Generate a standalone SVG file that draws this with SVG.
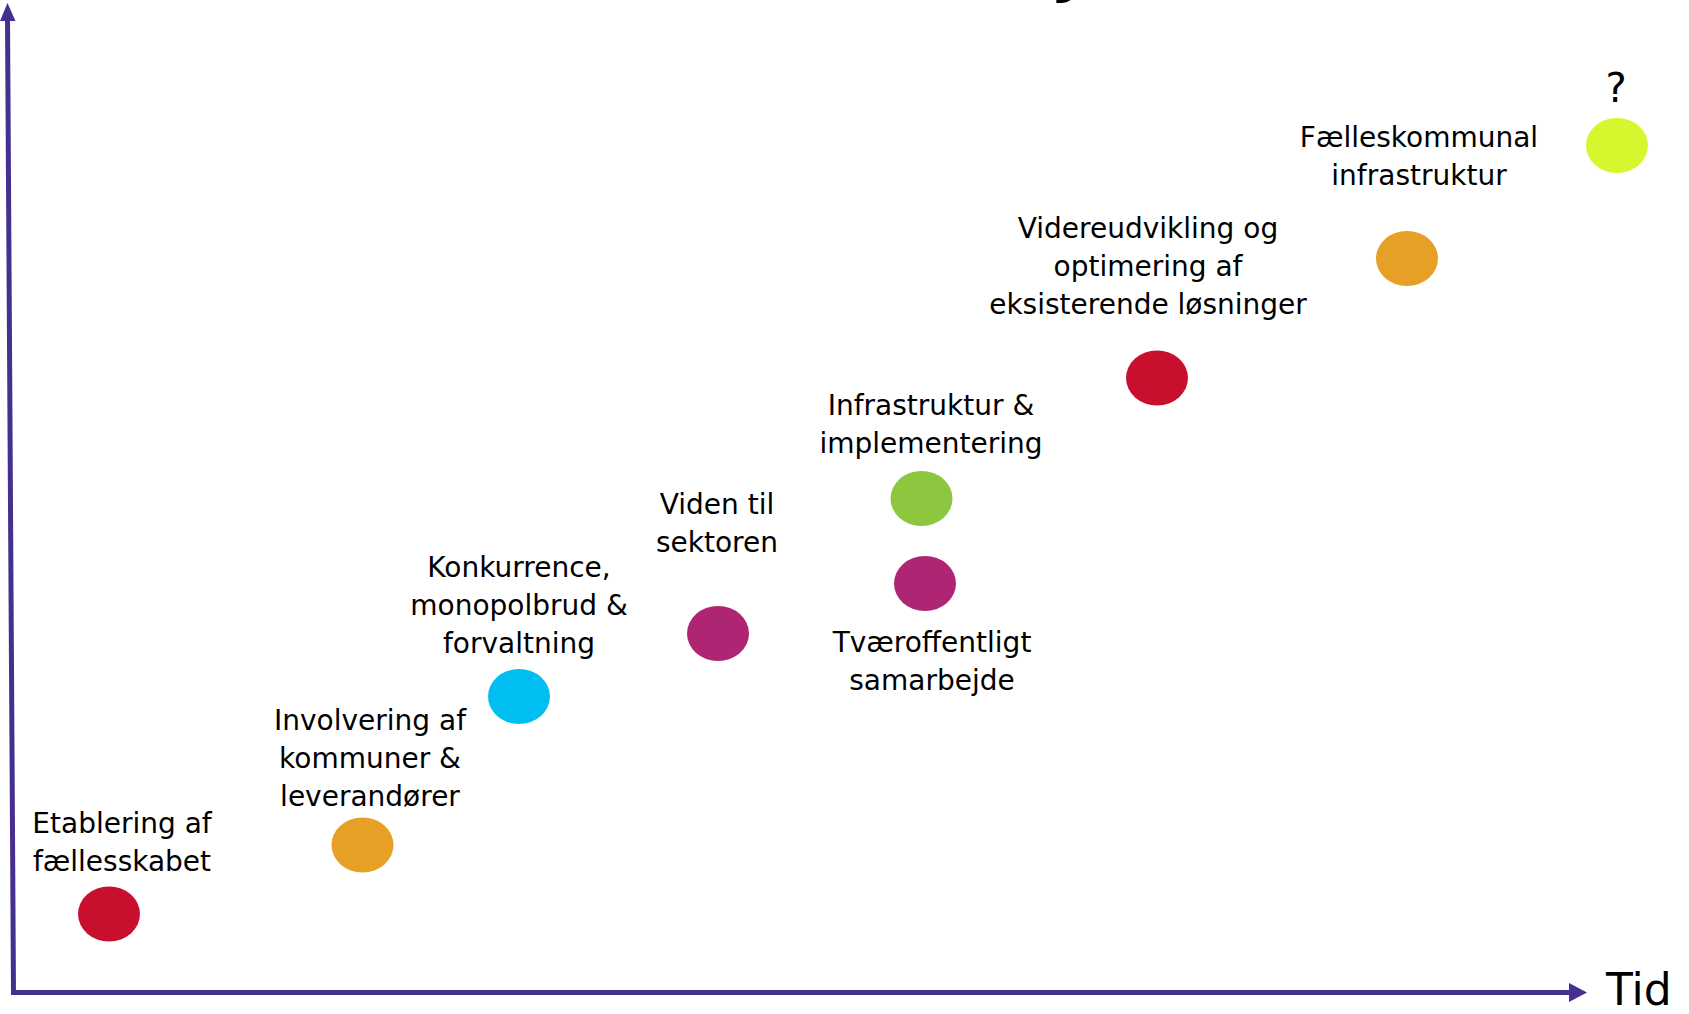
<svg xmlns="http://www.w3.org/2000/svg" width="1689" height="1014" viewBox="0 0 1689 1014">
<style>
  .lbl { font-family: "DejaVu Sans", "Liberation Sans", sans-serif; font-size: 28px; fill: #000; text-anchor: middle; }
  .axis { stroke: #46308F; stroke-width: 5; fill: none; }
  .head { fill: #46308F; }
</style>
<rect width="1689" height="1014" fill="#ffffff"/>
<text x="1050" y="-14" style="font-family: 'DejaVu Sans', sans-serif; font-size: 80px; fill:#000;">y</text>
<g id="connectors">
  <line class="axis" x1="7.5" y1="18" x2="13.5" y2="993"/>
  <polygon class="head" points="0,21 7.5,3 15.5,21"/>
  <line class="axis" x1="11" y1="992.5" x2="1572" y2="992.5"/>
  <polygon class="head" points="1569,983 1587,992.5 1569,1002"/>
</g>
<g id="axis-label"><text x="1606" y="1005" style="font-family: 'DejaVu Sans', sans-serif; font-size: 44px; fill:#000;">Tid</text></g>
<g id="n1">
  <ellipse cx="109" cy="914" rx="31" ry="27.5" fill="#C8102E"/>
  <text class="lbl" x="122" y="833">Etablering af</text>
  <text class="lbl" x="122" y="871">fællesskabet</text>
</g>
<g id="n2">
  <ellipse cx="362.5" cy="845" rx="31" ry="27.5" fill="#E6A025"/>
  <text class="lbl" x="370" y="730">Involvering af</text>
  <text class="lbl" x="370" y="768">kommuner &amp;</text>
  <text class="lbl" x="370" y="806">leverandører</text>
</g>
<g id="n3">
  <ellipse cx="519" cy="696.5" rx="31" ry="27.5" fill="#00BFF0"/>
  <text class="lbl" x="519" y="577">Konkurrence,</text>
  <text class="lbl" x="519" y="615">monopolbrud &amp;</text>
  <text class="lbl" x="519" y="653">forvaltning</text>
</g>
<g id="n4">
  <ellipse cx="718" cy="633.5" rx="31" ry="27.5" fill="#AE2673"/>
  <text class="lbl" x="717" y="514">Viden til</text>
  <text class="lbl" x="717" y="552">sektoren</text>
</g>
<g id="n5">
  <ellipse cx="921.5" cy="498.5" rx="31" ry="27.5" fill="#8DC63F"/>
  <text class="lbl" x="931" y="415">Infrastruktur &amp;</text>
  <text class="lbl" x="931" y="453">implementering</text>
</g>
<g id="n6">
  <ellipse cx="925" cy="583.5" rx="31" ry="27.5" fill="#AE2673"/>
  <text class="lbl" x="932" y="652">Tværoffentligt</text>
  <text class="lbl" x="932" y="690">samarbejde</text>
</g>
<g id="n7">
  <ellipse cx="1157" cy="378" rx="31" ry="27.5" fill="#C8102E"/>
  <text class="lbl" x="1148" y="238">Videreudvikling og</text>
  <text class="lbl" x="1148" y="276">optimering af</text>
  <text class="lbl" x="1148" y="314">eksisterende løsninger</text>
</g>
<g id="n8">
  <ellipse cx="1407" cy="258.5" rx="31" ry="27.5" fill="#E6A025"/>
  <text class="lbl" x="1419" y="147">Fælleskommunal</text>
  <text class="lbl" x="1419" y="185">infrastruktur</text>
</g>
<g id="n9">
  <ellipse cx="1617" cy="145.5" rx="31" ry="27.5" fill="#D5F72D"/>
  <text x="1616" y="102" style="font-family: 'DejaVu Sans', sans-serif; font-size: 40px; fill:#000; text-anchor: middle;">?</text>
</g>
</svg>
